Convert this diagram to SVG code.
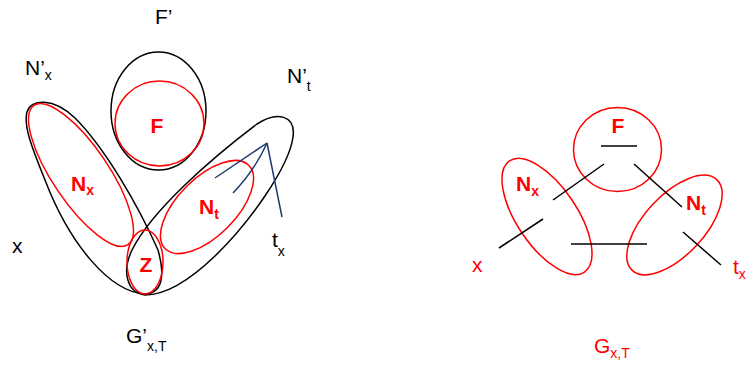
<svg xmlns="http://www.w3.org/2000/svg" width="746" height="367" viewBox="0 0 746 367">
<style>
.blk{fill:none;stroke:#000;stroke-width:1.5}
.red{fill:none;stroke:#ff0000;stroke-width:1.5}
.ln{stroke:#000;stroke-width:1.5;fill:none}
.nv{stroke:#1f3a70;stroke-width:1.5;fill:none}
.t{font-family:"Liberation Sans",Arial,sans-serif;font-size:21px;fill:#000}
.tr{font-family:"Liberation Sans",Arial,sans-serif;font-size:21px;fill:#ff0000}
.b{font-weight:bold;fill:#ff0000}
.s{font-size:14px}
</style>
<rect width="746" height="367" fill="#fff"/>
<!-- left diagram -->
<g id="Fprime">
<ellipse class="blk" cx="158.5" cy="111" rx="47.5" ry="59"/>
<text class="t" x="155" y="24">F’</text>
</g>
<g id="F-left">
<ellipse class="red" cx="159.5" cy="123.5" rx="44.5" ry="42.5"/>
<text class="t b" x="157" y="133" text-anchor="middle">F</text>
</g>
<g id="Nxprime">
<path class="blk" d="M145,294 C110,292 70,245 45,180 C33,150 23,126 27,112 C31,99 53,97 75,118 C105,148 138,205 158,250 C165,275 163,293 145,294 Z"/>
<text class="t" x="25" y="75">N’<tspan class="s" dy="5">x</tspan></text>
</g>
<g id="Nx-left">
<ellipse class="red" cx="81" cy="175" rx="84" ry="28" transform="rotate(56 81 175)"/>
<text class="t b" x="71" y="191">N<tspan class="s" dy="4">x</tspan></text>
</g>
<g id="Ntprime">
<path class="blk" d="M145,295 C128,293 121,273 132,250 C152,210 212,158 257,124 C277,111 296,115 293,137 C289,167 250,222 215,256 C190,280 166,295 145,295 Z"/>
<text class="t" x="287" y="83">N’<tspan class="s" dy="8">t</tspan></text>
</g>
<g id="Nt-left">
<ellipse class="red" cx="207" cy="207" rx="59" ry="29" transform="rotate(-45 207 207)"/>
<text class="t b" x="199" y="214">N<tspan class="s" dy="5">t</tspan></text>
</g>
<g id="Z">
<ellipse class="red" cx="145" cy="262" rx="18" ry="32"/>
<text class="t b" x="146" y="272" text-anchor="middle">Z</text>
</g>
<g id="x-left"><text class="t" x="12" y="253">x</text></g>
<g id="tx-left"><text class="t" x="272" y="247">t<tspan class="s" dy="9">x</tspan></text></g>
<g id="Gprime"><text class="t" x="126" y="343">G’<tspan class="s" dy="8">x,T</tspan></text></g>
<g id="connectors-left">
<line class="nv" x1="267" y1="143" x2="215" y2="178"/>
<path class="nv" d="M267,143 Q255,170 233,193"/>
<line class="nv" x1="267" y1="143" x2="282" y2="217"/>
</g>
<!-- right diagram -->
<g id="F-right">
<ellipse class="red" cx="617.5" cy="149.5" rx="44" ry="42"/>
<text class="t b" x="618" y="133" text-anchor="middle">F</text>
</g>
<g id="Nx-right">
<ellipse class="red" cx="547" cy="216.5" rx="67" ry="30" transform="rotate(56 547 216.5)"/>
<text class="t b" x="516" y="191">N<tspan class="s" dy="5">x</tspan></text>
</g>
<g id="Nt-right">
<ellipse class="red" cx="674.5" cy="225" rx="62" ry="30" transform="rotate(-47 674.5 225)"/>
<text class="t b" x="686" y="210">N<tspan class="s" dy="5">t</tspan></text>
</g>
<g id="x-right"><text class="tr" x="472" y="272">x</text></g>
<g id="tx-right"><text class="tr" x="733" y="274">t<tspan class="s" dy="5">x</tspan></text></g>
<g id="G-right"><text class="tr" x="594" y="353">G<tspan class="s" dy="5">x,T</tspan></text></g>
<g id="connectors-right">
<line class="ln" x1="601" y1="146" x2="637" y2="146"/>
<line class="ln" x1="553" y1="200" x2="604" y2="164"/>
<line class="ln" x1="499" y1="248" x2="543" y2="219"/>
<line class="ln" x1="634" y1="164" x2="682" y2="207"/>
<line class="ln" x1="683" y1="232" x2="721" y2="265"/>
<line class="ln" x1="571" y1="244" x2="647" y2="244"/>
</g>
</svg>
